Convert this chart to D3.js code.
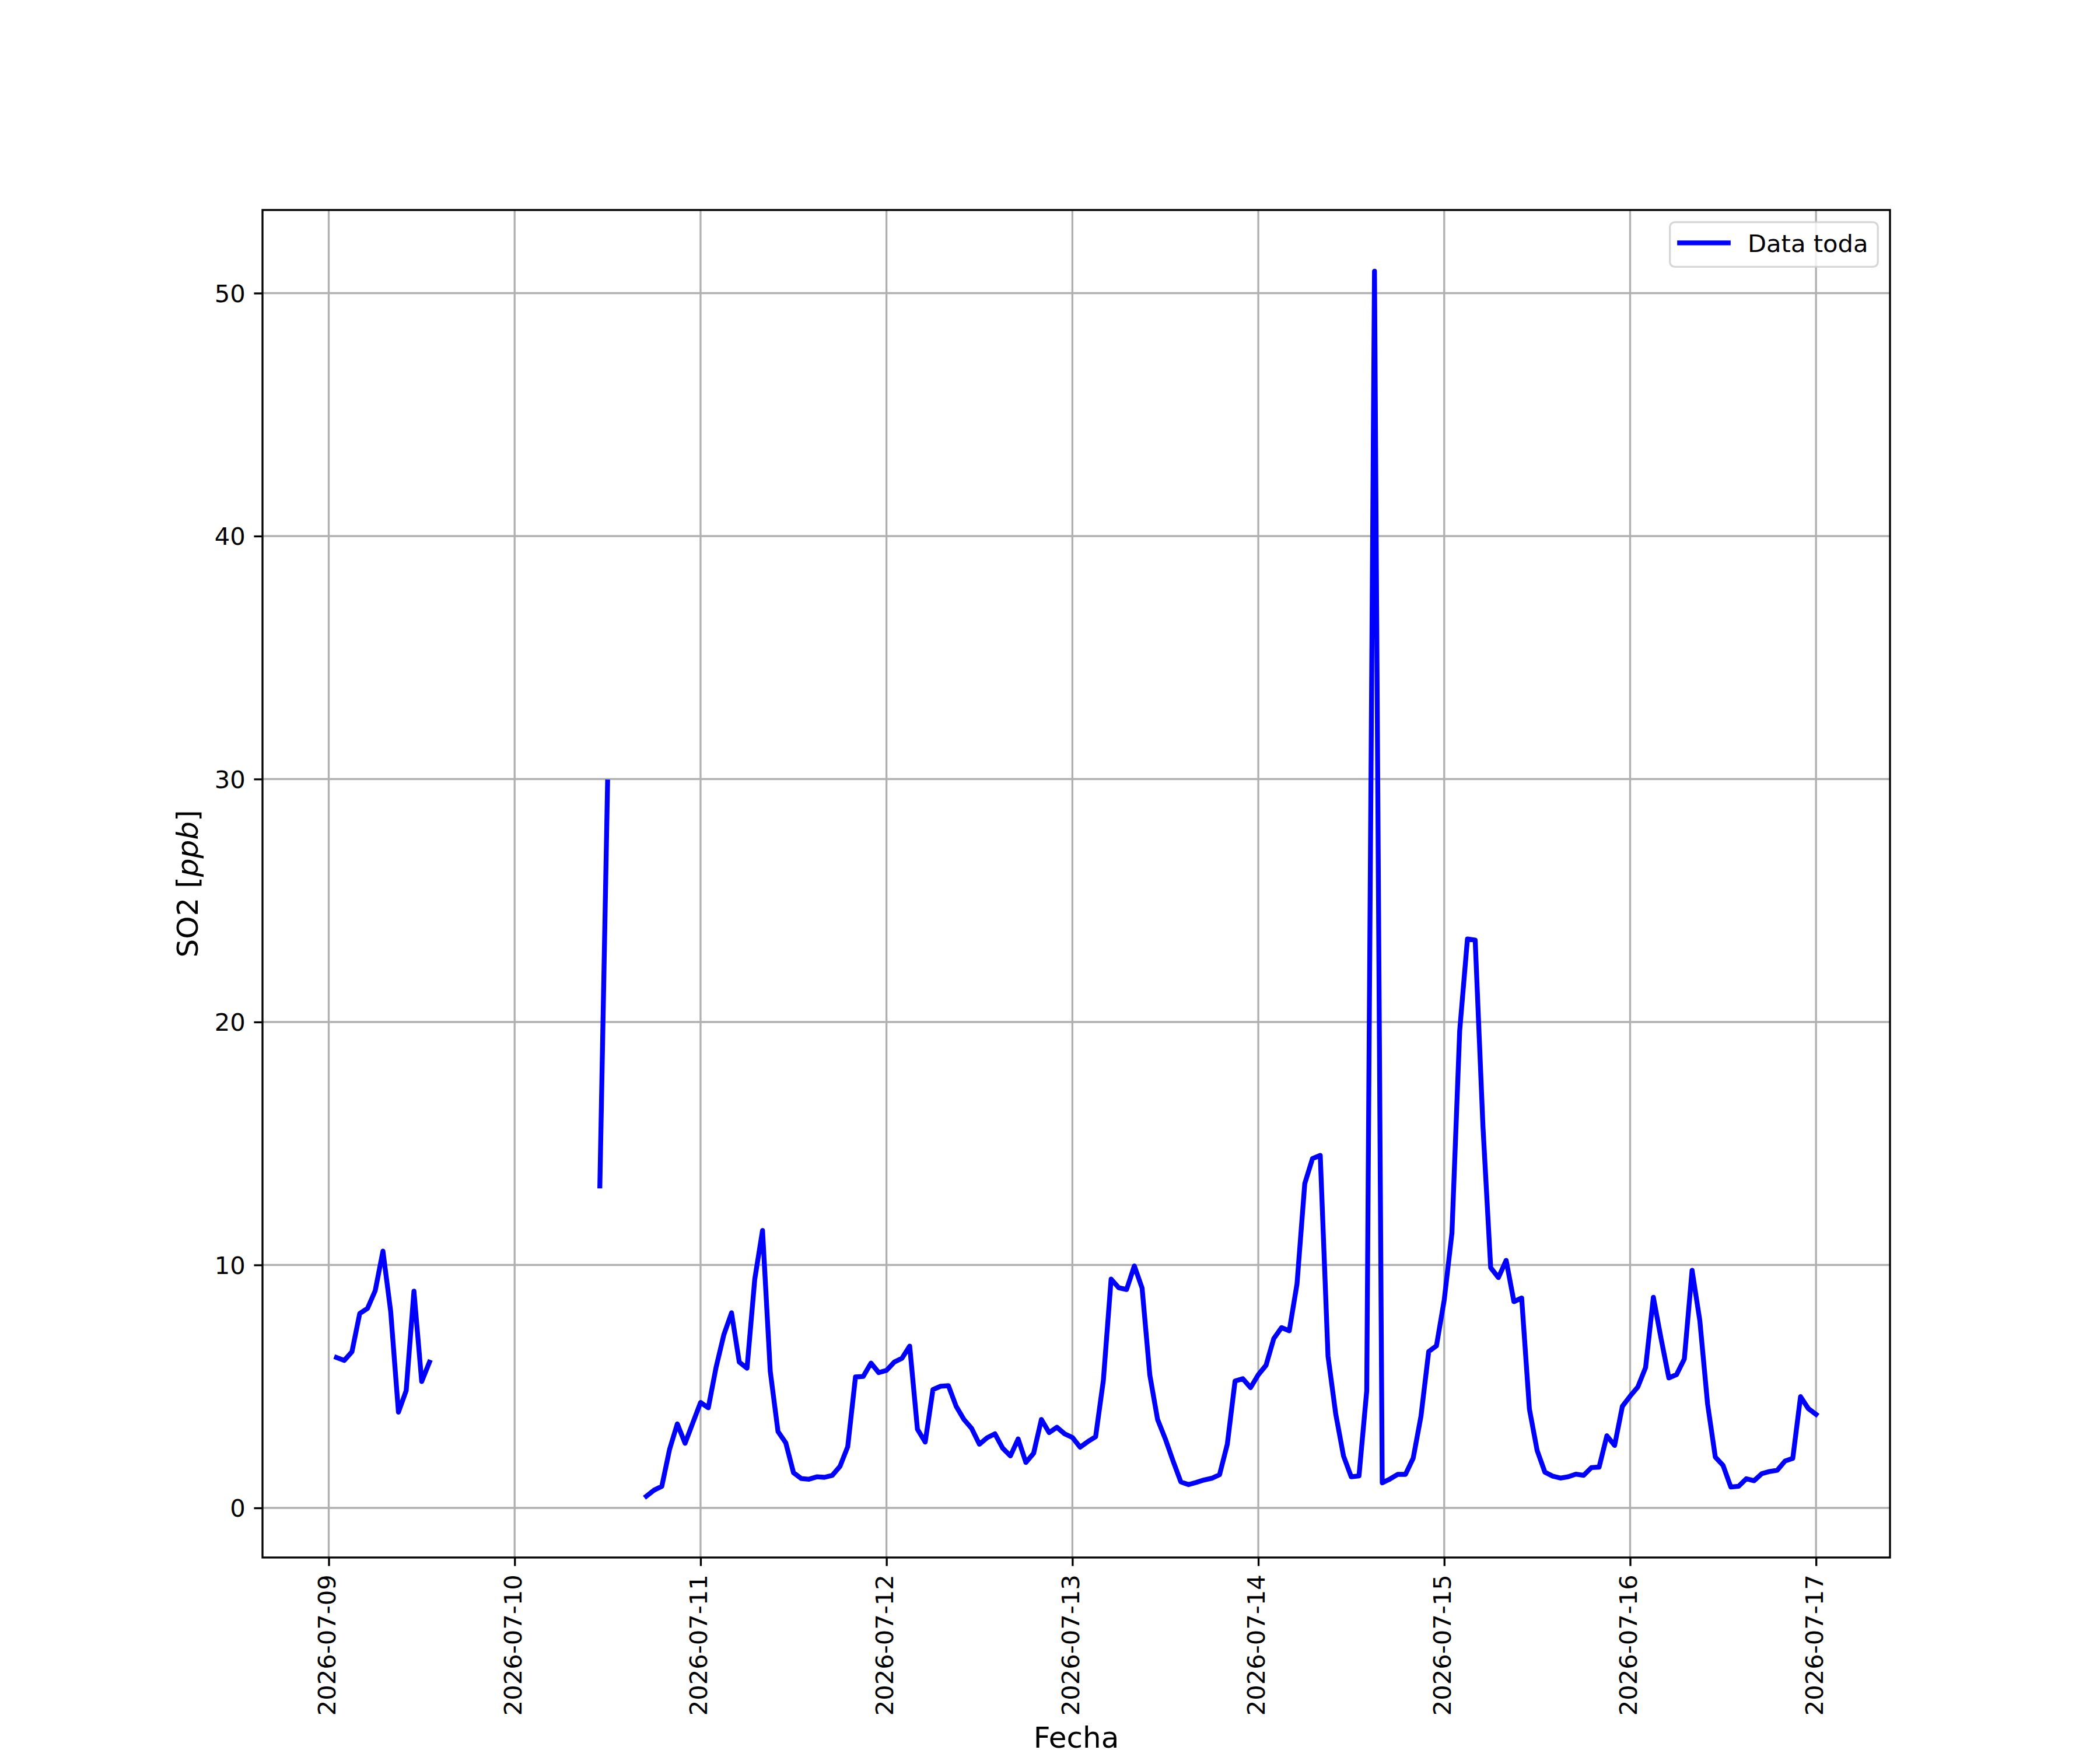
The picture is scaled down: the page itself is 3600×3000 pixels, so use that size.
<!DOCTYPE html>
<html>
<head>
<meta charset="utf-8">
<script src="https://cdn.jsdelivr.net/npm/d3@7"></script>
<style>
  body { margin: 0; background: #fff; }
  text { font-family: "DejaVu Sans", sans-serif; }
</style>
</head>
<body>
<div id="chart"></div>
<script>
// hourly SO2 readings, first one at 2026-07-09 01:00, null = no data
var startHour = "2026-07-09 01:00"
var so2 = [
  // 07-09 01..23
  6.19, 6.07, 6.43, 8.0, 8.21, 8.94, 10.57, 8.08, 3.94, 4.83, 8.92, 5.2, 6.0,
  null, null, null, null, null, null, null, null, null, null,
  // 07-10
  null, null, null, null, null, null, null, null, null, null, null, 13.25,
  29.88, null, null, null, null, 0.48, 0.73, 0.89, 2.41, 3.46, 2.66, 3.5,
  // 07-11
  4.34, 4.12, 5.78, 7.12, 8.03, 6.0, 5.75, 9.42, 11.42, 5.62, 3.14, 2.68,
  1.45, 1.21, 1.18, 1.28, 1.26, 1.34, 1.71, 2.52, 5.39, 5.41, 5.96, 5.57,
  // 07-12
  5.66, 6.0, 6.16, 6.66, 3.24, 2.71, 4.87, 5.01, 5.03, 4.18, 3.64, 3.27,
  2.62, 2.89, 3.05, 2.46, 2.14, 2.84, 1.87, 2.25, 3.64, 3.1, 3.32, 3.05,
  // 07-13
  2.9, 2.5, 2.73, 2.93, 5.25, 9.42, 9.06, 8.99, 9.96, 9.05, 5.46, 3.64,
  2.84, 1.93, 1.07, 0.96, 1.05, 1.15, 1.22, 1.37, 2.62, 5.22, 5.32, 4.95,
  // 07-14
  5.48, 5.87, 6.97, 7.42, 7.29, 9.22, 13.35, 14.38, 14.51, 6.25, 3.86, 2.14,
  1.28, 1.32, 4.82, 50.9, 1.03, 1.19, 1.38, 1.38, 2.05, 3.77, 6.44, 6.67,
  // 07-15
  8.55, 11.32, 19.64, 23.42, 23.37, 15.72, 9.89, 9.48, 10.19, 8.49, 8.64, 4.07,
  2.36, 1.47, 1.31, 1.23, 1.28, 1.39, 1.34, 1.66, 1.68, 2.97, 2.57, 4.18,
  // 07-16
  4.6, 4.98, 5.78, 8.67, 6.96, 5.35, 5.49, 6.13, 9.78, 7.71, 4.28, 2.09,
  1.75, 0.86, 0.89, 1.2, 1.12, 1.41, 1.5, 1.55, 1.93, 2.04, 4.58, 4.09,
  // 07-17 00
  3.85
]
var dayTicks = ["2026-07-09", "2026-07-10", "2026-07-11", "2026-07-12", "2026-07-13",
                "2026-07-14", "2026-07-15", "2026-07-16", "2026-07-17"]
var yTicks = [0, 10, 20, 30, 40, 50]
var seriesName = "Data toda"
var xTitle = "Fecha"

var W = 3600, H = 3000
var pt = 300 / 72                 // figure is 12x10 in at 300 dpi
var fs = 10 * pt                  // tick labels, legend
var fsTitle = 12 * pt             // axis titles
var lw = 2 * pt
// plot box (window.top is taken, so no bare "top")
var axL = 450, axR = 3240, axT = 360, axB = 2670
var tickLen = 3.5 * pt, tickPad = 3.5 * pt, labelPad = 4 * pt

var parseHour = d3.timeParse("%Y-%m-%d %H:%M")
var parseDay = d3.timeParse("%Y-%m-%d")
var t0 = parseHour(startHour)
var data = so2.map(function (v, i) {
    return { t: d3.timeHour.offset(t0, i), v: v }
})
var tickDates = dayTicks.map(parseDay)

var tExt = d3.extent(data, function (d) { return d.t })
var tPad = (tExt[1] - tExt[0]) * 0.05
var vExt = d3.extent(data.filter(function (d) { return d.v != null }), function (d) { return d.v })
var vPad = (vExt[1] - vExt[0]) * 0.05

var x = d3.scaleTime()
          .domain([new Date(+tExt[0] - tPad), new Date(+tExt[1] + tPad)])
          .range([axL, axR])
var y = d3.scaleLinear()
          .domain([vExt[0] - vPad, vExt[1] + vPad])
          .range([axB, axT])

var svg = d3.select("#chart").append("svg")
            .attr("width", W)
            .attr("height", H)
svg.append("rect").attr("width", W).attr("height", H).attr("fill", "#fff")

svg.append("clipPath").attr("id", "plotclip")
   .append("rect")
   .attr("x", axL).attr("y", axT)
   .attr("width", axR - axL).attr("height", axB - axT)

// grid
var grid = svg.append("g")
grid.selectAll(".gx").data(tickDates).enter().append("line")
    .attr("x1", function (d) { return x(d) }).attr("x2", function (d) { return x(d) })
    .attr("y1", axT).attr("y2", axB)
    .attr("stroke", "#b0b0b0").attr("stroke-width", 0.8 * pt)
grid.selectAll(".gy").data(yTicks).enter().append("line")
    .attr("x1", axL).attr("x2", axR)
    .attr("y1", function (d) { return y(d) }).attr("y2", function (d) { return y(d) })
    .attr("stroke", "#b0b0b0").attr("stroke-width", 0.8 * pt)

// series
var line = d3.line()
             .defined(function (d) { return d.v != null })
             .x(function (d) { return x(d.t) })
             .y(function (d) { return y(d.v) })
svg.append("path")
   .datum(data)
   .attr("clip-path", "url(#plotclip)")
   .attr("d", line)
   .attr("fill", "none")
   .attr("stroke", "#0000ff")
   .attr("stroke-width", lw)
   .attr("stroke-linejoin", "round")
   .attr("stroke-linecap", "square")

// axes
var xAxis = svg.append("g")
               .attr("transform", "translate(0," + axB + ")")
               .call(d3.axisBottom(x).tickValues(tickDates)
                       .tickFormat(d3.timeFormat("%Y-%m-%d"))
                       .tickSizeInner(tickLen).tickSizeOuter(0))
xAxis.select(".domain").remove()
xAxis.selectAll("line").attr("stroke", "#000").attr("stroke-width", 0.8 * pt)
xAxis.selectAll("text")
     .attr("font-size", fs)
     .attr("fill", "#000")
     .attr("x", -(tickLen + tickPad))
     .attr("y", 0)
     .attr("dy", "0.26em")
     .attr("text-anchor", "end")
     .attr("transform", "rotate(-90)")

var yAxis = svg.append("g")
               .attr("transform", "translate(" + axL + ",0)")
               .call(d3.axisLeft(y).tickValues(yTicks)
                       .tickSizeInner(tickLen).tickSizeOuter(0).tickPadding(tickPad))
yAxis.select(".domain").remove()
yAxis.selectAll("line").attr("stroke", "#000").attr("stroke-width", 0.8 * pt)
yAxis.selectAll("text")
     .attr("font-size", fs)
     .attr("fill", "#000")
     .attr("dy", "0.35em")

svg.append("rect")
   .attr("x", axL).attr("y", axT)
   .attr("width", axR - axL).attr("height", axB - axT)
   .attr("fill", "none").attr("stroke", "#000").attr("stroke-width", 0.8 * pt)

// axis titles
var xLabLen = 0
xAxis.selectAll("text").each(function () { xLabLen = Math.max(xLabLen, this.getComputedTextLength()) })
svg.append("text")
   .attr("x", (axL + axR) / 2)
   .attr("y", axB + tickLen + tickPad + xLabLen + labelPad + 0.76 * fsTitle)
   .attr("text-anchor", "middle")
   .attr("font-size", fsTitle)
   .text(xTitle)

var yLabLen = 0
yAxis.selectAll("text").each(function () { yLabLen = Math.max(yLabLen, this.getComputedTextLength()) })
var yTitleX = axL - tickLen - tickPad - yLabLen - labelPad - 0.236 * fsTitle
var yTitle = svg.append("text")
   .attr("transform", "translate(" + yTitleX + "," + (axT + axB) / 2 + ") rotate(-90)")
   .attr("text-anchor", "middle")
   .attr("font-size", fsTitle)
yTitle.append("tspan").text("SO2 [")
yTitle.append("tspan").attr("font-style", "italic").text("ppb")
yTitle.append("tspan").text("]")

// legend
var legend = svg.append("g").attr("class", "legend")
var legText = legend.append("text")
                    .attr("font-size", fs)
                    .text(seriesName)
var textLen = legText.node().getComputedTextLength()
var bpad = 0.4 * fs, handleLen = 2 * fs, handlePad = 0.8 * fs
var boxW = bpad + handleLen + handlePad + textLen + bpad
var boxH = 76.6
var boxR = axR - 0.5 * fs, boxT = axT + 0.5 * fs
legend.insert("rect", "text")
      .attr("x", boxR - boxW).attr("y", boxT)
      .attr("width", boxW).attr("height", boxH)
      .attr("rx", 0.2 * fs).attr("ry", 0.2 * fs)
      .attr("fill", "#fff").attr("fill-opacity", 0.8)
      .attr("stroke", "#cccccc").attr("stroke-opacity", 0.8)
      .attr("stroke-width", 0.8 * pt)
legend.insert("line", "text")
      .attr("x1", boxR - boxW + bpad).attr("x2", boxR - boxW + bpad + handleLen)
      .attr("y1", boxT + 35.5).attr("y2", boxT + 35.5)
      .attr("stroke", "#0000ff").attr("stroke-width", lw)
      .attr("stroke-linecap", "square")
legText.attr("x", boxR - boxW + bpad + handleLen + handlePad)
       .attr("y", boxT + 51.5)
</script>
</body>
</html>
